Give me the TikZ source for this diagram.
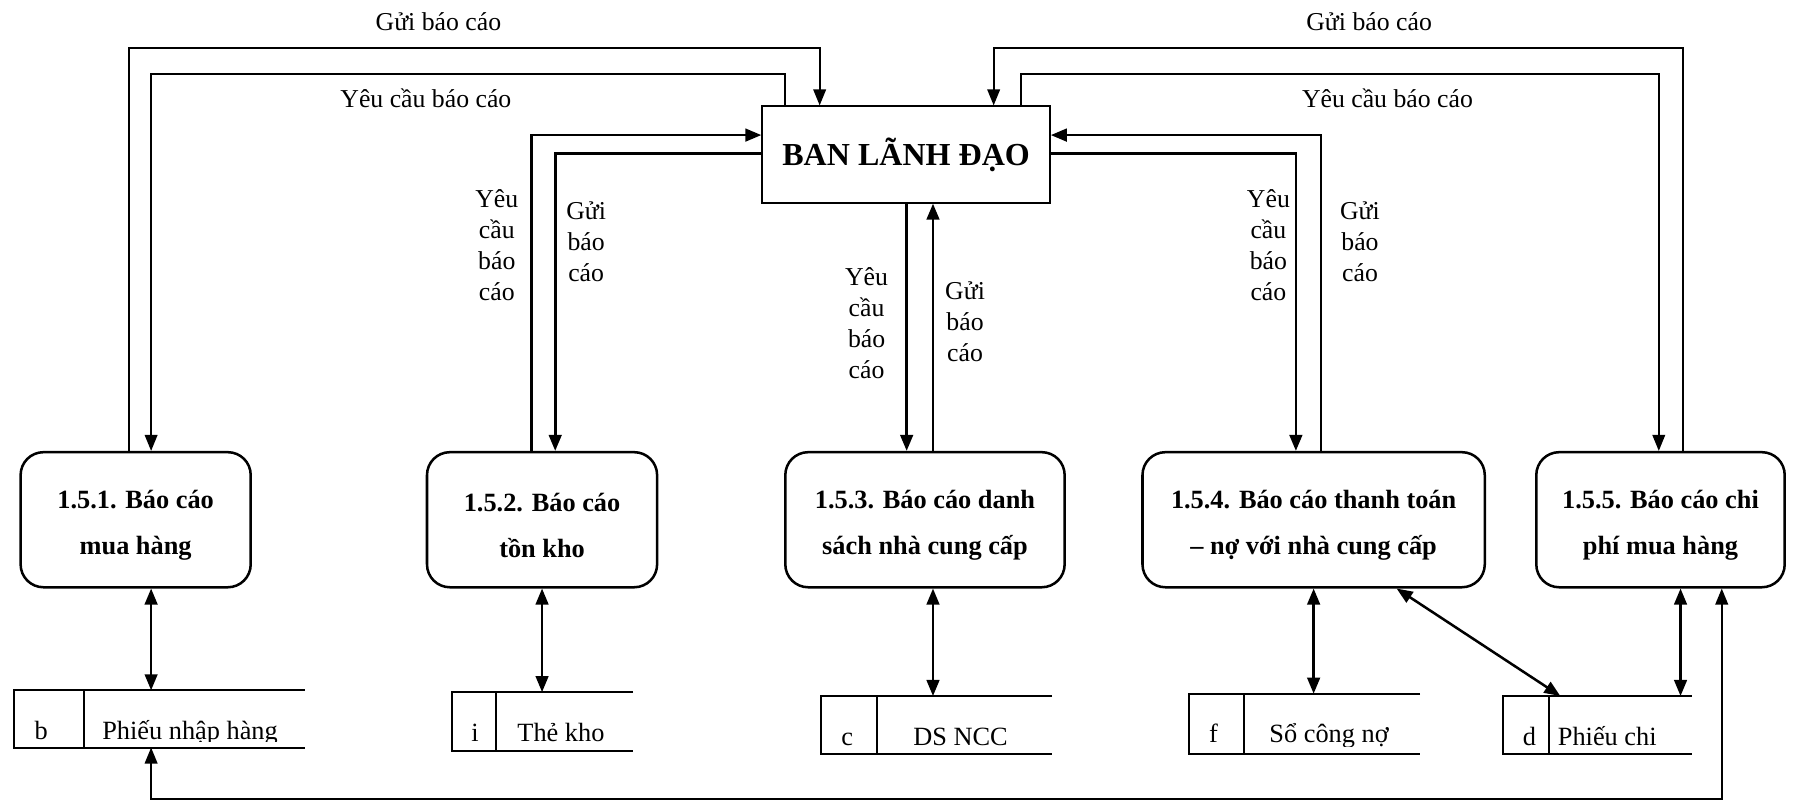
\documentclass[tikz,border=0pt]{standalone}
\usepackage{fontspec}
\setmainfont{Liberation Serif}
\usetikzlibrary{arrows.meta}
\begin{document}
\begin{tikzpicture}[x=0.5pt,y=-0.5pt,
  flowthin/.style={line width=0.8pt},
  flowthick/.style={line width=1.2pt},
  arr/.style={-{Triangle[length=7pt,width=5.5pt]}},
  dbl/.style={{Triangle[length=7pt,width=5.5pt]}-{Triangle[length=7pt,width=5.5pt]}, line width=1.1pt},
  proc/.style={draw, line width=1.1pt, rounded corners=10pt, minimum height=59pt, inner sep=0pt},
  proctext/.style={align=center, inner sep=0pt, font=\bfseries\fontsize{11.5}{20}\selectfont},
  lbl/.style={inner sep=0pt, align=center, font=\fontsize{11.25}{13.5}\selectfont},
  frame/.style={inner sep=0pt, outer sep=0pt},
  storeln/.style={line width=0.9pt},
  storetxt/.style={anchor=base, inner sep=0pt, font=\fontsize{11.5}{13.5}\selectfont}
]
\useasboundingbox (0,0) rectangle (1568,699);

% ---------- management and the five report processes ----------
\node[draw, line width=0.9pt, minimum width=125.5pt, minimum height=42pt, inner sep=0pt,
      font=\bfseries\fontsize{14}{16}\selectfont] (ban) at (791.5,135) {BAN LÃNH ĐẠO};

\node[proc, minimum width=100.5pt] (p1) at (118.5,454) {};
\node[proc, minimum width=100.5pt] (p2) at (473.5,454) {};
\node[proc, minimum width=122pt]   (p3) at (808,454)   {};
\node[proc, minimum width=149.5pt] (p4) at (1147.5,454) {};
\node[proc, minimum width=108.5pt] (p5) at (1450.5,454) {};

\node[proctext] (p1t) at ([yshift=-2.5pt]p1.center) {1.5.1. Báo cáo\\mua hàng};
\node[proctext] (p2t) at ([yshift=-2.5pt]p2.center) {1.5.2. Báo cáo\\tồn kho};
\node[proctext] (p3t) at ([yshift=-2.5pt]p3.center) {1.5.3. Báo cáo danh\\sách nhà cung cấp};
\node[proctext] (p4t) at ([yshift=-2.5pt]p4.center) {1.5.4. Báo cáo thanh toán\\– nợ với nhà cung cấp};
\node[proctext] (p5t) at ([yshift=-2.5pt]p5.center) {1.5.5. Báo cáo chi\\phí mua hàng};

% ---------- data stores (open on the right) ----------
\node[frame, minimum width=127pt, minimum height=25pt]  (sb) at (139,628) {};
\node[frame, minimum width=79pt,  minimum height=25.7pt] (si) at (474,630.3) {};
\node[frame, minimum width=101pt, minimum height=25.5pt] (sc) at (818,633.5) {};
\node[frame, minimum width=101pt, minimum height=26.2pt] (sf) at (1139.5,632.2) {};
\node[frame, minimum width=82.5pt, minimum height=25.5pt] (sd) at (1395.5,633.5) {};

\coordinate (db) at (73,0);
\coordinate (di) at (433,0);
\coordinate (dc) at (766,0);
\coordinate (df) at (1087,0);
\coordinate (dd) at (1353,0);

\foreach \s/\d in {sb/db, si/di, sc/dc, sf/df, sd/dd}{
  \draw[storeln] (\s.north east) -- (\s.north west) -- (\s.south west) -- (\s.south east);
  \draw[storeln] (\s.north west -| \d) -- (\s.south west -| \d);
}

% store texts sit in a text area that ends just under the baseline
\begin{scope}
  \clip (sb.north west) rectangle (sb.east |- 0,648);
  \node[storetxt] (sbid) at (36,646) {b};
  \node[storetxt] (sbnm) at (166,646) {Phiếu nhập hàng};
\end{scope}
\begin{scope}
  \clip (si.north west) rectangle (si.east |- 0,651);
  \node[storetxt] (siid) at (415,648) {i};
  \node[storetxt] (sinm) at (490,648) {Thẻ kho};
\end{scope}
\begin{scope}
  \clip (sc.north west) rectangle (sc.east |- 0,653);
  \node[storetxt] (scid) at (740,651) {c};
  \node[storetxt] (scnm) at (839,651) {DS NCC};
\end{scope}
\begin{scope}
  \clip (sf.north west) rectangle (sf.east |- 0,652);
  \node[storetxt] (sfid) at (1060,649) {f};
  \node[storetxt] (sfnm) at (1161,649) {Sổ công nợ};
\end{scope}
\begin{scope}
  \clip (sd.north west) rectangle (sd.east |- 0,654);
  \node[storetxt] (sdid) at (1336,651) {d};
  \node[storetxt] (sdnm) at (1404,651) {Phiếu chi};
\end{scope}

% ---------- routing lanes ----------
\coordinate (yA) at (0,42);
\coordinate (yB) at (0,65);
\coordinate (yC) at (0,118);
\coordinate (yD) at (0,134);
\coordinate (yZ) at (0,698);
\coordinate (xa) at (113,0);
\coordinate (xb) at (132,0);
\coordinate (xc) at (686,0);
\coordinate (xd) at (716,0);
\coordinate (xe) at (464,0);
\coordinate (xf) at (485,0);
\coordinate (xg) at (792,0);
\coordinate (xh) at (815,0);
\coordinate (xi) at (1132,0);
\coordinate (xj) at (1154,0);
\coordinate (xk) at (868,0);
\coordinate (xl) at (892,0);
\coordinate (xm) at (1449,0);
\coordinate (xn) at (1470,0);
\coordinate (xq) at (1220,0);
\coordinate (xr) at (1363,0);
\coordinate (xt) at (1468,0);
\coordinate (xo) at (1504,0);

% ---------- report requests and reports ----------
\draw[flowthin, arr] (p1.north -| xa) |- (yA -| xd) -- (ban.north -| xd);
\draw[flowthin, arr] (ban.north -| xc) |- (yB -| xb) -- (p1.north -| xb);
\draw[flowthick, arr] (p2.north -| xe) |- (ban.west |- yC);
\draw[flowthick, arr] (ban.west |- yD) -| (p2.north -| xf);
\draw[flowthick, arr] (ban.south -| xg) -- (p3.north -| xg);
\draw[flowthick, arr] (p3.north -| xh) -- (ban.south -| xh);
\draw[flowthick, arr] (ban.east |- yD) -| (p4.north -| xi);
\draw[flowthick, arr] (p4.north -| xj) |- (ban.east |- yC);
\draw[flowthin, arr] (p5.north -| xn) |- (yA -| xk) -- (ban.north -| xk);
\draw[flowthin, arr] (ban.north -| xl) |- (yB -| xm) -- (p5.north -| xm);

% ---------- process to store exchanges ----------
\draw[dbl] (p1.south -| xb) -- (sb.north -| xb);
\draw[dbl] (p2.south) -- (p2.south |- si.north);
\draw[dbl] (p3.south -| xh) -- (sc.north -| xh);
\draw[dbl] (p4.south) -- (p4.south |- sf.north);
\draw[dbl] (p4.south -| xq) -- (sd.north -| xr);
\draw[dbl] (p5.south -| xt) -- (sd.north -| xt);
\draw[dbl, line width=0.9pt] (sb.south -| xb) |- (yZ -| xo) -- (p5.south -| xo);

% ---------- flow labels ----------
\node[lbl] (t1) at (383,19) {Gửi báo cáo};
\node[lbl] (t2) at (1196,19) {Gửi báo cáo};
\node[lbl] (t3) at (372,86) {Yêu cầu báo cáo};
\node[lbl] (t4) at (1212,86) {Yêu cầu báo cáo};
\node[lbl] (s1) at (434,214) {Yêu\\cầu\\báo\\cáo};
\node[lbl] (s2) at (512,211) {Gửi\\báo\\cáo};
\node[lbl] (s3) at (757,282) {Yêu\\cầu\\báo\\cáo};
\node[lbl] (s4) at (843,281) {Gửi\\báo\\cáo};
\node[lbl] (s5) at (1108,214) {Yêu\\cầu\\báo\\cáo};
\node[lbl] (s6) at (1188,211) {Gửi\\báo\\cáo};
\end{tikzpicture}
\end{document}
